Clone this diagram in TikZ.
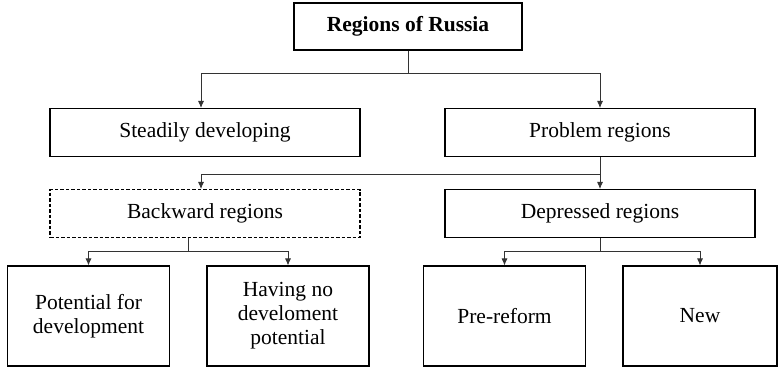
\documentclass[tikz,border=0pt]{standalone}
\usepackage{fontspec}
\setmainfont{Liberation Serif}
\usetikzlibrary{calc, arrows.meta}

\begin{document}
\begin{tikzpicture}[x=1pt, y=-1pt,
	box/.style={draw, line width=1.1pt, rectangle, minimum width=310pt, minimum height=48pt,
		inner sep=2pt, font=\fontsize{21.5}{24}\selectfont},
	leaf/.style={box, minimum width=162pt, minimum height=100pt, align=center},
	link/.style={line width=0.8pt, draw=black!80}]
	\useasboundingbox (0,0) rectangle (779,368);
	\def \drop {23}

	\node[box, minimum width=228pt, minimum height=47pt, font=\fontsize{21.5}{24}\selectfont\bfseries]
		(russia) at (408,26.5) {Regions of Russia};

	\node[box] (steady)    at (205,132.5) {Steadily developing};
	\node[box] (problem)   at (600,132.5) {Problem regions};
	\node[box, dash pattern=on 3.5pt off 2pt] (backward) at (205,213.5)
		{Backward regions};
	\node[box] (depressed) at (600,213.5) {Depressed regions};

	\node[leaf] (potential) at (88.5,316)  {Potential for\\development};
	\node[leaf] (nopotent)  at (288,316)   {Having no\\develoment\\potential};
	\node[leaf] (prereform) at (504.5,316) {Pre-reform};
	\node[leaf, minimum width=154pt] (new) at (700,316) {New};

	\draw[link, ->, >={Latex[length=7pt,width=6pt]}] (russia.south) -- ++(0,\drop) -| ($(steady.north)+(-4,0)$);
	\draw[link, ->, >={Latex[length=7pt,width=6pt]}] (russia.south) -- ++(0,\drop) -| (problem.north);
	\draw[link, ->, >={Latex[length=7pt,width=6pt]}] (problem.south) -- ++(0,17) -| ($(backward.north)+(-4,0)$);
	\draw[link, ->, >={Latex[length=7pt,width=6pt]}] (problem.south) -- (depressed.north);
	\draw[link, ->, >={Latex[length=7pt,width=6pt]}] ($(backward.south)+(-17,0)$) -- ++(0,13) -| (potential.north);
	\draw[link, ->, >={Latex[length=7pt,width=6pt]}] ($(backward.south)+(-17,0)$) -- ++(0,13) -| (nopotent.north);
	\draw[link, ->, >={Latex[length=7pt,width=6pt]}] (depressed.south) -- ++(0,13) -| (prereform.north);
	\draw[link, ->, >={Latex[length=7pt,width=6pt]}] (depressed.south) -- ++(0,13) -| (new.north);
\end{tikzpicture}
\end{document}
